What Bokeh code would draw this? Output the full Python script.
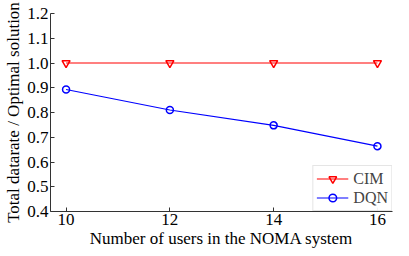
from bokeh.plotting import figure
from bokeh.models import Range1d, FixedTicker, PrintfTickFormatter
from bokeh.embed import file_html
from bokeh.resources import INLINE

users = [10, 12, 14, 16]
cim = [1.0, 1.0, 1.0, 1.0]
dqn = [0.893, 0.81, 0.748, 0.664]
y_ticks = [0.4, 0.5, 0.6, 0.7, 0.8, 0.9, 1.0, 1.1, 1.2]
x_ticks = [10, 12, 14, 16]

FONT = "Liberation Serif"

p = figure(width=400, height=250, output_backend="svg", toolbar_location=None,
           x_range=Range1d(9.70, 16.29), y_range=Range1d(0.4, 1.2),
           min_border_left=50, min_border_right=8, min_border_top=13, min_border_bottom=38)
p.outline_line_color = None
p.xgrid.visible = False
p.ygrid.visible = False

p.line(users, cim, color="red", line_width=1.2, legend_label="CIM")
p.scatter(users, cim, marker="inverted_triangle", size=8, line_color="red", fill_color=None,
          line_width=1.5, legend_label="CIM")
p.line(users, dqn, color="blue", line_width=1.2, legend_label="DQN")
p.scatter(users, dqn, marker="circle", size=7, line_color="blue", fill_color=None,
          line_width=1.5, legend_label="DQN")

for ax in (p.xaxis[0], p.yaxis[0]):
    ax.axis_line_color = "#333333"
    ax.major_tick_line_color = "#333333"
    ax.major_tick_in = 4
    ax.major_tick_out = 0
    ax.minor_tick_line_color = None
    ax.major_label_text_font = FONT
    ax.major_label_text_font_size = "17px"
    ax.major_label_text_color = "black"
    ax.axis_label_text_font = FONT
    ax.axis_label_text_font_size = "17px"
    ax.axis_label_text_font_style = "normal"
    ax.axis_label_text_color = "black"

p.xaxis.ticker = FixedTicker(ticks=x_ticks)
p.yaxis.ticker = FixedTicker(ticks=y_ticks)
p.yaxis.formatter = PrintfTickFormatter(format="%.1f")
p.xaxis.axis_label = "Number of users in the NOMA system"
p.yaxis.axis_label = "Total datarate / Optimal solution"
p.xaxis.major_label_standoff = 2
p.yaxis.major_label_standoff = 2
p.xaxis.axis_label_standoff = 1
p.yaxis.axis_label_standoff = 1

p.legend.location = "bottom_right"
p.legend.border_line_color = "#cccccc"
p.legend.label_text_font = FONT
p.legend.label_text_font_size = "16px"
p.legend.glyph_width = 32
p.legend.spacing = 0
p.legend.padding = 3
p.legend.margin = 0
p.legend.label_height = 19
p.legend.glyph_height = 19

open("out.html", "w").write(file_html(p, INLINE))
